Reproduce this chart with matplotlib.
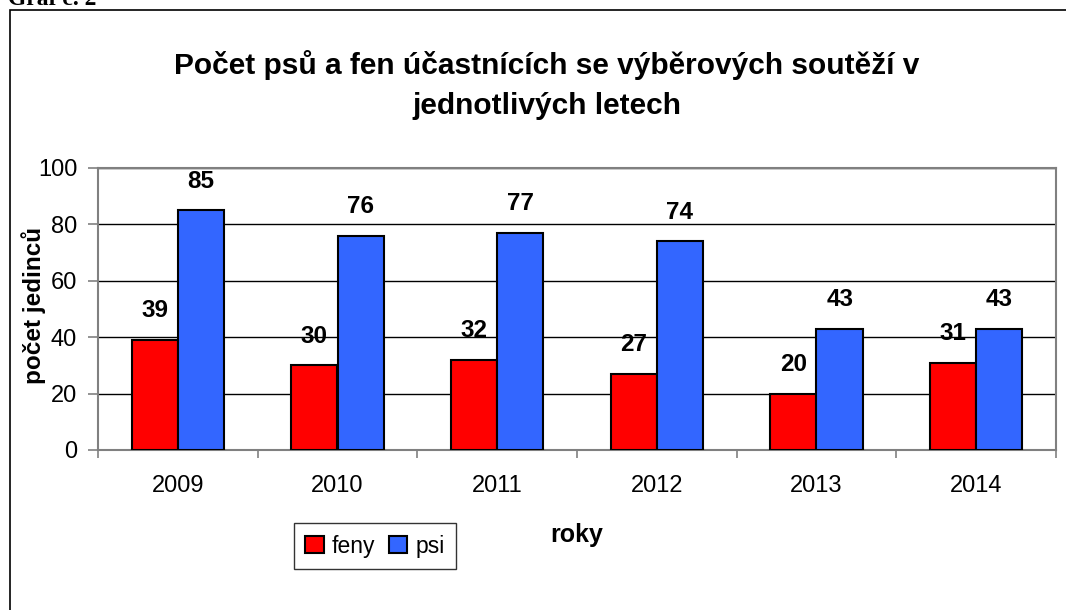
import matplotlib
matplotlib.use("Agg")
import matplotlib.pyplot as plt
import numpy as np
from matplotlib.patches import Rectangle

roky = ["2009", "2010", "2011", "2012", "2013", "2014"]
feny = [39, 30, 32, 27, 20, 31]
psi = [85, 76, 77, 74, 43, 43]

plt.rcParams['font.family'] = ['Liberation Sans', 'DejaVu Sans']

fig = plt.figure(figsize=(10.66, 6.10), dpi=100)

# outer chart frame
fig.patches.append(Rectangle((10 / 1066, -0.1), 1.2, 1 - 10 / 610 + 0.1, transform=fig.transFigure,
                             fill=False, edgecolor='black', linewidth=1.2))
fig.text(8 / 1066, 1 - 5 / 610, "Graf č. 2", family='Liberation Serif', fontweight='bold',
         fontsize=17, va='baseline', ha='left')

ax = fig.add_axes([98 / 1066, 1 - 450 / 610, (1056 - 98) / 1066, (450 - 168) / 610])

x = np.arange(len(roky))
w = 0.29
b1 = ax.bar(x - w / 2, feny, w, color='#FF0000', edgecolor='black', linewidth=1.5, label='feny', zorder=3)
b2 = ax.bar(x + w / 2, psi, w, color='#3366FF', edgecolor='black', linewidth=1.5, label='psi', zorder=3)

for bars, vals in ((b1, feny), (b2, psi)):
    for r, v in zip(bars, vals):
        ax.text(r.get_x() + r.get_width() / 2, v + 10.3, str(v), ha='center', va='center',
                fontsize=17.5, fontweight='bold')

ax.set_xlim(-0.5, len(roky) - 0.5)
ax.set_ylim(0, 100)
ax.set_yticks(range(0, 101, 20))
ax.yaxis.grid(True, color='black', linewidth=1)
ax.set_axisbelow(True)
ax.set_xticks(x)
ax.set_xticklabels(roky)
ax.set_xticks(np.arange(-0.5, len(roky), 1), minor=True)
ax.tick_params(axis='x', which='major', length=0, labelsize=17, pad=18)
ax.tick_params(axis='x', which='minor', length=6, color='#808080', width=1.2)
ax.tick_params(axis='y', length=7, width=1.2, color='#808080', labelsize=17, pad=8)
for s in ax.spines.values():
    s.set_color('#808080')
    s.set_linewidth(1.5)

ax.set_ylabel("počet jedinců", fontsize=17.5, fontweight='bold')
ax.yaxis.set_label_coords(46 / 1066, 0.5, transform=fig.transFigure)
fig.text(577 / 1066, 1 - 535 / 610, "roky", fontsize=18, fontweight='bold', ha='center', va='center')
fig.text(547 / 1066, 1 - 85 / 610, "Počet psů a fen účastnících se výběrových soutěží v\njednotlivých letech",
         fontsize=21.5, fontweight='bold', ha='center', va='center', linespacing=1.55)

leg = ax.legend(loc='center', bbox_to_anchor=(375 / 1066, 1 - 546 / 610), bbox_transform=fig.transFigure,
                ncol=2, fontsize=16.5, frameon=True, fancybox=False, handlelength=0.8, handleheight=0.8,
                handletextpad=0.35, columnspacing=0.6, borderpad=0.5, borderaxespad=0)
leg.get_frame().set_edgecolor('black')
leg.get_frame().set_linewidth(1)

fig.savefig("out.png", dpi=100)
